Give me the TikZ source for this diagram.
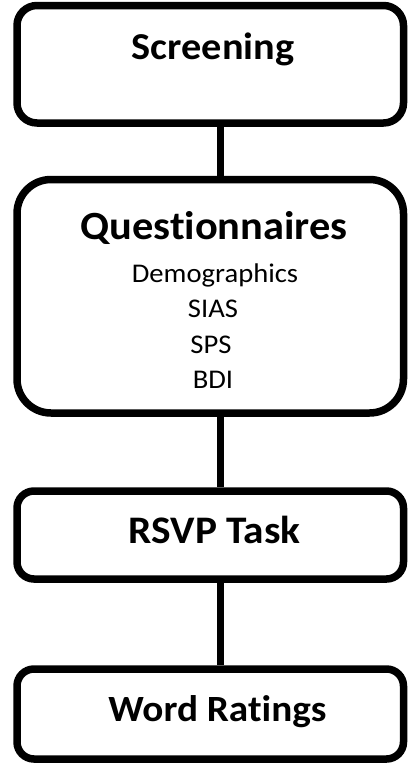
\documentclass[tikz,border=0pt]{standalone}
\usepackage{fontspec}
\setmainfont{Carlito}[FakeStretch=1.06, Ligatures={NoCommon,NoContextual}]
\begin{document}
\begin{tikzpicture}[x=1pt,y=-1pt,
  stage/.style={draw=black, line width=7.5pt, minimum width=386.5pt, inner sep=0pt},
  title/.style={anchor=base, inner sep=0pt, font=\bfseries\fontsize{38}{44}\selectfont},
  item/.style={anchor=base, inner sep=0pt, font=\fontsize{27}{32}\selectfont},
  link/.style={draw=black, line width=7pt}]
\useasboundingbox (0,0) rectangle (408,764);

% stage boxes
\node[stage, rounded corners=20pt, minimum height=117.5pt] (screen) at (210.25,64.25) {};
\node[stage, rounded corners=34pt, minimum height=233.5pt] (quest) at (210.25,296.25) {};
\node[stage, rounded corners=17pt, minimum height=88pt] (rsvp) at (210.25,535) {};
\node[stage, rounded corners=17pt, minimum height=90pt] (words) at (210.25,714) {};

% connectors between the stages
\draw[link] ([xshift=9.75pt]screen.south) -- ([xshift=9.75pt]quest.north);
\draw[link] ([xshift=9.75pt]quest.south) -- ([xshift=9.75pt]rsvp.north);
\draw[link] ([xshift=9.75pt]rsvp.south) -- ([xshift=9.75pt]words.north);

% labels
\node[title] (tscreen) at (213,59) {Screening};
\node[title, font=\bfseries\fontsize{40}{46}\selectfont] (tquest) at (214,239) {Questionnaires};
\node[item] (demo) at (215,282) {Demographics};
\node[item] (sias) at (213,317.5) {SIAS};
\node[item] (sps) at (211,353) {SPS};
\node[item] (bdi) at (213,388.5) {BDI};
\node[title, font=\bfseries\fontsize{39}{45}\selectfont] (trsvp) at (214.5,543) {RSVP Task};
\node[title, font=\bfseries\fontsize{37}{43}\selectfont] (twords) at (217.5,721) {Word Ratings};
\end{tikzpicture}
\end{document}
